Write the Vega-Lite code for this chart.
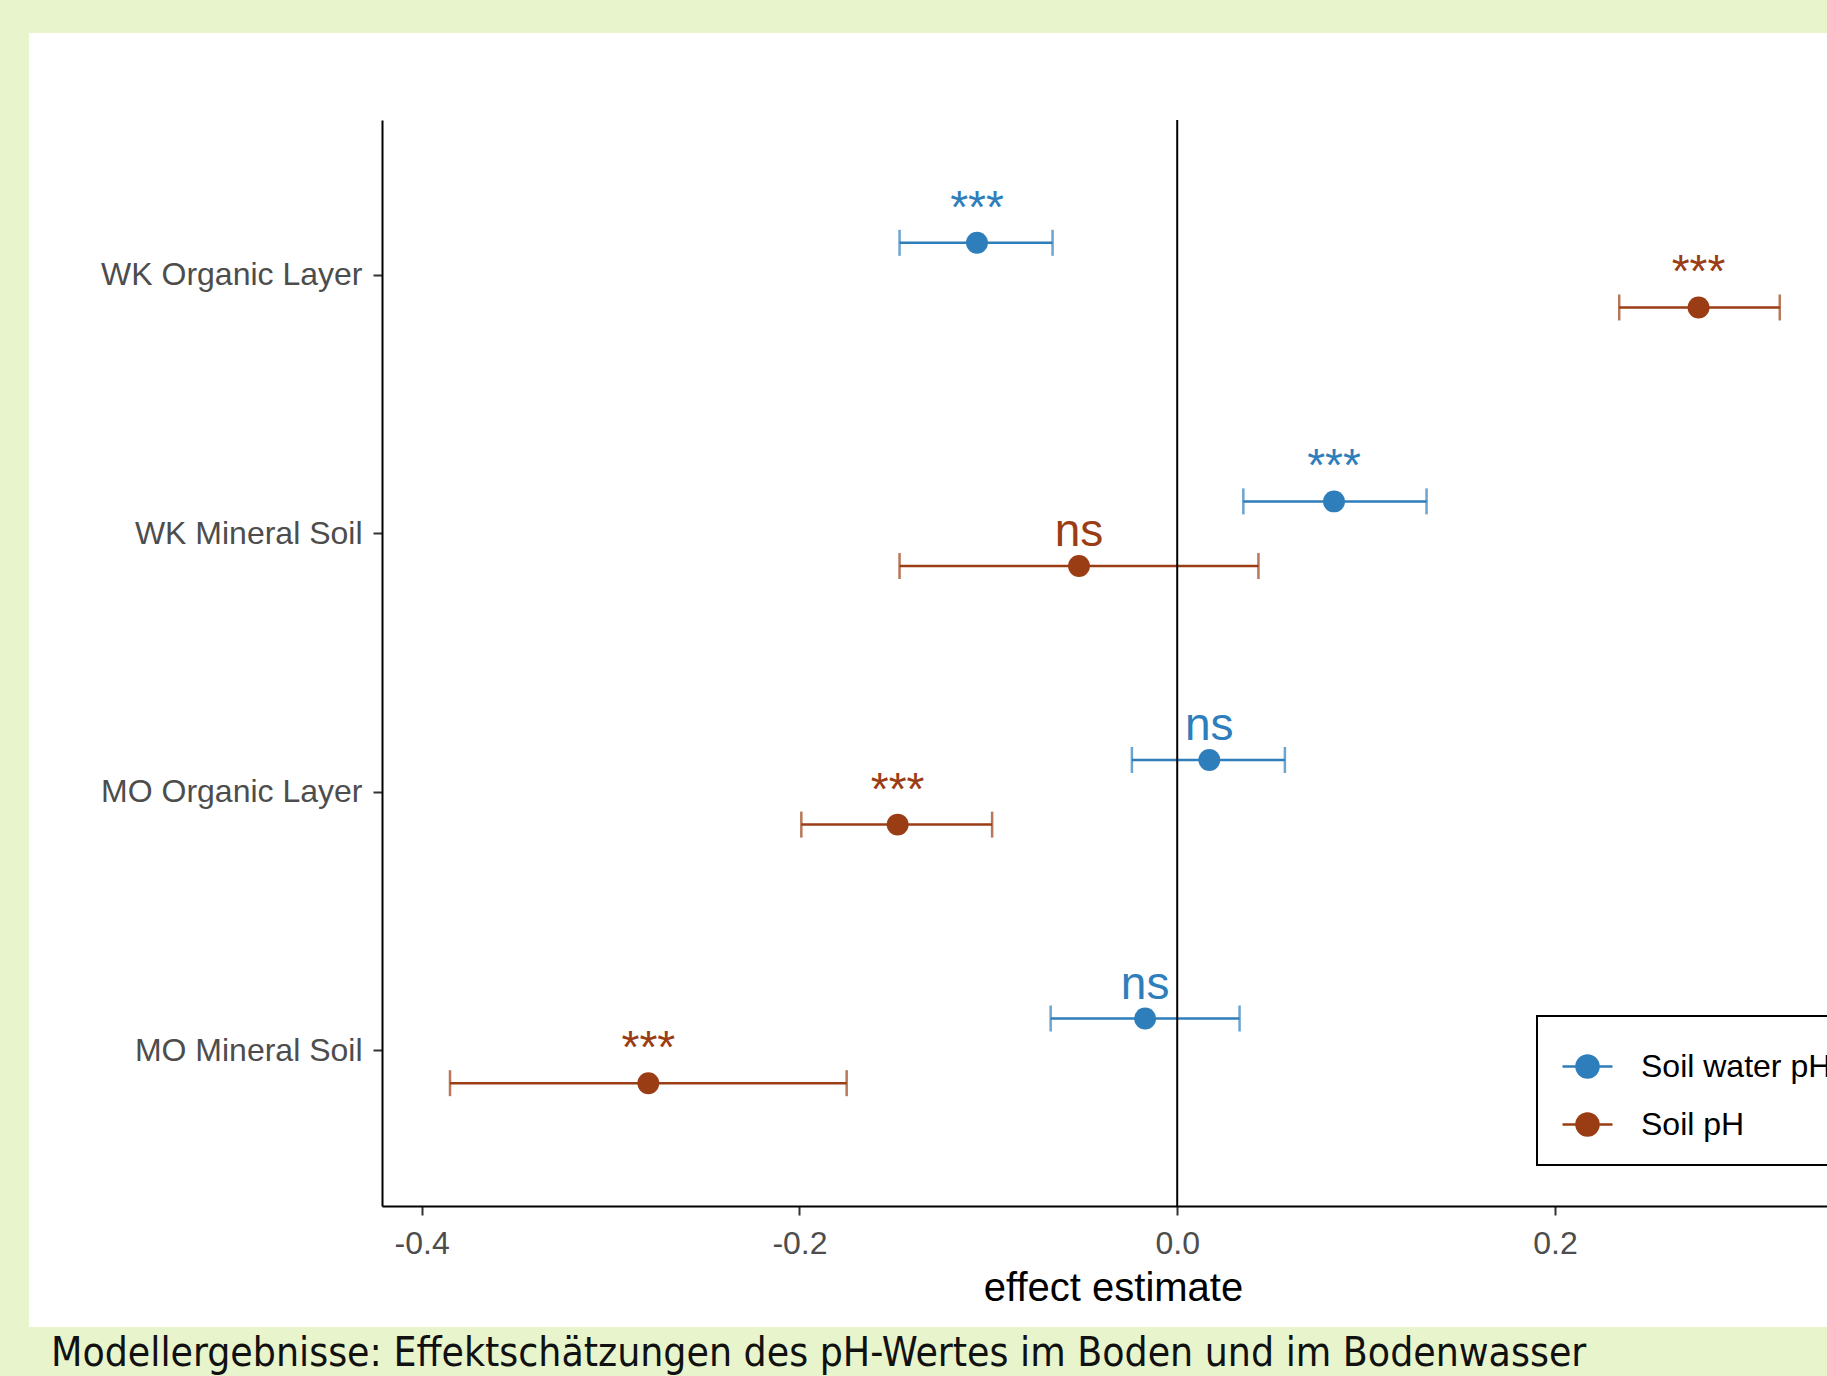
{
  "$schema": "https://vega.github.io/schema/vega-lite/v6.json",
  "autosize": {"type": "none"},
  "width": 1798,
  "height": 1294,
  "padding": {"left": 29, "top": 33, "right": 0, "bottom": 49},
  "background": "#e8f4cb",
  "title": {
    "text": "Modellergebnisse: Effektschätzungen des pH-Wertes im Boden und im Bodenwasser",
    "orient": "bottom",
    "anchor": "start",
    "dx": 22,
    "offset": 7,
    "baseline": "top",
    "font": "Liberation Sans Narrow, DejaVu Sans Condensed, Arial Narrow, sans-serif",
    "fontSize": 40.5,
    "fontWeight": "normal",
    "color": "#111111"
  },
  "config": {
    "view": {"fill": "white", "stroke": null},
    "font": "Liberation Sans"
  },
  "resolve": {"scale": {"y": "independent"}, "axis": {"y": "independent"}},
  "layer": [
    {
      "data": {
        "values": [
          {"site": "WK Organic Layer", "measure": "Soil water pH", "est": -0.106, "lo": -0.147, "hi": -0.066, "sig": "***"},
          {"site": "WK Organic Layer", "measure": "Soil pH", "est": 0.276, "lo": 0.234, "hi": 0.319, "sig": "***"},
          {"site": "WK Mineral Soil", "measure": "Soil water pH", "est": 0.083, "lo": 0.035, "hi": 0.132, "sig": "***"},
          {"site": "WK Mineral Soil", "measure": "Soil pH", "est": -0.052, "lo": -0.147, "hi": 0.043, "sig": "ns"},
          {"site": "MO Organic Layer", "measure": "Soil water pH", "est": 0.017, "lo": -0.024, "hi": 0.057, "sig": "ns"},
          {"site": "MO Organic Layer", "measure": "Soil pH", "est": -0.148, "lo": -0.199, "hi": -0.098, "sig": "***"},
          {"site": "MO Mineral Soil", "measure": "Soil water pH", "est": -0.017, "lo": -0.067, "hi": 0.033, "sig": "ns"},
          {"site": "MO Mineral Soil", "measure": "Soil pH", "est": -0.28, "lo": -0.385, "hi": -0.175, "sig": "***"}
        ]
      },
      "encoding": {
        "y": {
          "field": "site",
          "type": "nominal",
          "sort": ["WK Organic Layer", "WK Mineral Soil", "MO Organic Layer", "MO Mineral Soil"],
          "scale": {"range": [87, 1173], "paddingInner": 0, "paddingOuter": 0.1},
          "axis": {
            "title": null,
            "offset": -353,
            "domainColor": "black",
            "domainWidth": 2,
            "tickColor": "#333333",
            "tickWidth": 2,
            "tickSize": 9,
            "labelFontSize": 32,
            "labelColor": "#4d4d4d",
            "labelPadding": 11,
            "labelFont": "Liberation Sans",
            "labelLimit": 0
          }
        },
        "yOffset": {
          "field": "measure",
          "type": "nominal",
          "sort": ["Soil water pH", "Soil pH"],
          "scale": {"paddingInner": 0, "paddingOuter": 1}
        },
        "color": {
          "field": "measure",
          "type": "nominal",
          "scale": {"domain": ["Soil water pH", "Soil pH"], "range": ["#2e7ebc", "#9b3d14"]},
          "legend": {
            "title": null,
            "orient": "none",
            "legendX": 1508,
            "legendY": 983,
            "symbolType": "M-1,0L1,0M-0.44,0A0.44,0.44,0,1,1,0.44,0A0.44,0.44,0,1,1,-0.44,0Z",
            "symbolSize": 2500,
            "symbolStrokeWidth": 2.5,
            "labelFontSize": 32,
            "labelColor": "black",
            "labelFont": "Liberation Sans",
            "labelOffset": 27,
            "labelLimit": 0,
            "rowPadding": 15,
            "padding": 24,
            "strokeColor": "black",
            "fillColor": "white",
            "cornerRadius": 0,
            "symbolOpacity": 1,
            "encode": {
              "legend": {"update": {"strokeWidth": {"value": 2}}},
              "symbols": {
                "update": {
                  "fill": {"scale": "color", "field": "value"},
                  "stroke": {"scale": "color", "field": "value"},
                  "opacity": {"value": 1}
                }
              }
            }
          }
        }
      },
      "layer": [
        {
          "mark": {"type": "rule", "strokeWidth": 2.5},
          "encoding": {
            "x": {
              "field": "lo",
              "type": "quantitative",
              "scale": {"domain": [-0.421, 0.353], "range": [353, 1815], "nice": false, "zero": false},
              "axis": {
                "title": "effect estimate",
                "values": [-0.4, -0.2, 0, 0.2],
                "labelExpr": "datum.value < 0 ? '-' + format(-datum.value, '.1f') : format(datum.value, '.1f')",
                "offset": -121,
                "domainColor": "black",
                "domainWidth": 2,
                "tickColor": "#333333",
                "tickWidth": 2,
                "tickSize": 9,
                "labelFontSize": 32,
                "labelColor": "#4d4d4d",
                "labelFont": "Liberation Sans",
                "labelPadding": 13,
                "labelFlush": false,
                "titleFontSize": 40,
                "titleFont": "Liberation Sans",
                "titleFontWeight": "normal",
                "titleColor": "black",
                "titleBaseline": "alphabetic",
                "titleY": 94,
                "grid": false
              }
            },
            "x2": {"field": "hi"}
          }
        },
        {
          "mark": {"type": "tick", "thickness": 2.5, "size": 26},
          "encoding": {"x": {"field": "lo", "type": "quantitative"}}
        },
        {
          "mark": {"type": "tick", "thickness": 2.5, "size": 26},
          "encoding": {"x": {"field": "hi", "type": "quantitative"}}
        },
        {
          "mark": {"type": "point", "filled": true, "size": 480, "opacity": 1},
          "encoding": {"x": {"field": "est", "type": "quantitative"}}
        },
        {
          "mark": {"type": "text", "dy": -20, "baseline": "alphabetic", "fontSize": 46, "font": "Liberation Sans"},
          "encoding": {
            "x": {"field": "est", "type": "quantitative"},
            "text": {"field": "sig"}
          }
        }
      ]
    },
    {
      "data": {"values": [{"ref": 0}]},
      "mark": {"type": "rule", "color": "black", "strokeWidth": 2},
      "encoding": {
        "x": {"field": "ref", "type": "quantitative"},
        "y": {"datum": 0, "type": "quantitative", "scale": {"domain": [0, 1], "range": [87, 1173]}, "axis": null},
        "y2": {"datum": 1}
      }
    }
  ]
}
